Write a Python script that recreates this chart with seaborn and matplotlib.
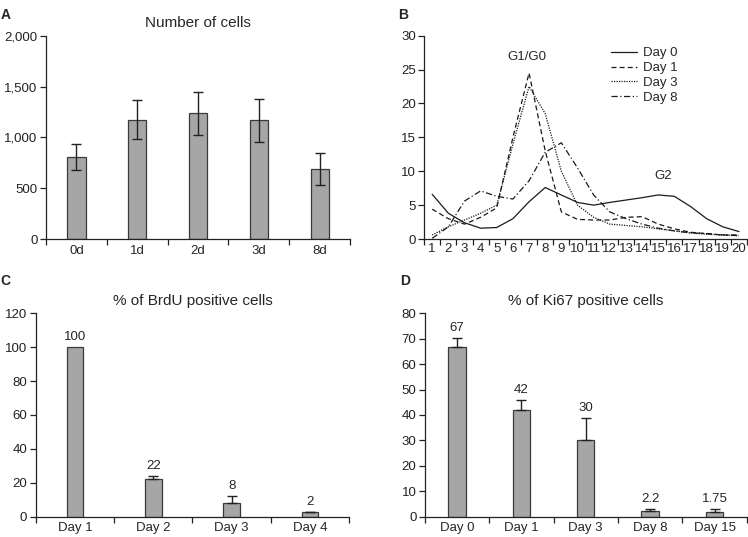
import numpy as np
import pandas as pd
import matplotlib
matplotlib.use("Agg")
import matplotlib.pyplot as plt
import seaborn as sns

# --- data ---
# A: number of cells
cells_days = ["0d", "1d", "2d", "3d", "8d"]
cells_mean = [805, 1175, 1235, 1168, 688]
cells_err = [130, 195, 215, 210, 160]

# B: cell cycle profiles
channel = list(range(1, 21))
day0 = [6.6, 3.8, 2.4, 1.6, 1.7, 3.0, 5.5, 7.6, 6.5, 5.4, 5.0, 5.4, 5.75, 6.1, 6.5, 6.3, 4.8, 3.0, 1.8, 1.1]
day1 = [4.4, 3.0, 2.2, 3.2, 4.6, 15.0, 24.5, 13.0, 4.0, 2.9, 2.8, 2.8, 3.2, 3.3, 2.2, 1.5, 1.0, 0.8, 0.6, 0.6]
day3 = [0.6, 1.8, 2.8, 3.8, 5.0, 14.0, 22.5, 18.5, 10.0, 5.0, 3.2, 2.2, 2.0, 1.8, 1.5, 1.2, 0.9, 0.7, 0.6, 0.5]
day8 = [0.1, 1.8, 5.6, 7.1, 6.3, 5.9, 8.6, 12.8, 14.2, 10.5, 6.5, 4.0, 3.0, 2.2, 1.6, 1.2, 0.9, 0.8, 0.6, 0.5]

# C: BrdU positive cells
brdu_days = ["Day 1", "Day 2", "Day 3", "Day 4"]
brdu_mean = [100, 22.2, 7.9, 2.6]
brdu_err = [0, 2.0, 4.5, 0.3]
brdu_text = ["100", "22", "8", "2"]

# D: Ki67 positive cells
ki67_days = ["Day 0", "Day 1", "Day 3", "Day 8", "Day 15"]
ki67_mean = [66.9, 42.0, 30.0, 2.2, 1.7]
ki67_err = [3.5, 3.9, 8.7, 0.8, 1.2]
ki67_text = ["67", "42", "30", "2.2", "1.75"]

sns.set_style("white")
plt.rcParams["font.family"] = ["Liberation Sans", "DejaVu Sans"]
plt.rcParams["font.size"] = 9.5

BAR = "#a6a6a6"
EDGE = "#3a3a3a"

fig = plt.figure(figsize=(7.48, 5.37), dpi=100)
axA = fig.add_axes([0.0615, 0.5549, 0.4065, 0.3786])
axB = fig.add_axes([0.567, 0.5549, 0.4317, 0.3786])
axC = fig.add_axes([0.0477, 0.0378, 0.4193, 0.3788])
axD = fig.add_axes([0.5678, 0.0378, 0.4305, 0.3788])


def style_axes(ax):
    sns.despine(ax=ax)
    for s in ["left", "bottom"]:
        ax.spines[s].set_color("#222222")
        ax.spines[s].set_linewidth(0.9)
    ax.tick_params(axis="y", which="major", direction="out", length=4, width=0.9,
                   colors="#222222", labelsize=9.5, left=True, pad=2)
    ax.tick_params(axis="x", which="major", length=0, labelsize=9.5, pad=4)
    ax.tick_params(axis="x", which="minor", direction="out", length=4, width=0.9,
                   colors="#222222", bottom=True)


def bar_panel(ax, cats, vals, errs, width, ylim, yticks, title, both=False, texts=None):
    df = pd.DataFrame({"day": cats, "val": vals})
    sns.barplot(data=df, x="day", y="val", order=cats, color=BAR, width=width,
                edgecolor=EDGE, linewidth=0.9, saturation=1, errorbar=None, ax=ax)
    xs = np.arange(len(cats))
    keep = np.array(errs) > 0
    e = np.array(errs)[keep]
    if both:
        yerr = e
    else:
        yerr = [np.zeros(len(e)), e]
    ax.errorbar(xs[keep], np.array(vals)[keep], yerr=yerr, fmt="none", ecolor="#222222",
                elinewidth=1.0, capsize=3.5, capthick=1.0)
    if texts is not None:
        for x, v, er, t in zip(xs, vals, errs, texts):
            ax.text(x, v + er + ylim[1] * 0.02, t, ha="center", va="bottom", fontsize=9.5)
    ax.set_xlim(-0.5, len(cats) - 0.5)
    ax.set_xticks(np.arange(-0.5, len(cats)), minor=True)
    ax.set_ylim(*ylim)
    ax.set_yticks(yticks)
    ax.set_xlabel("")
    ax.set_ylabel("")
    ax.set_title(title, fontsize=11, pad=6)
    style_axes(ax)


# A
bar_panel(axA, cells_days, cells_mean, cells_err, 0.3, (0, 2000),
          [0, 500, 1000, 1500, 2000], "Number of cells", both=True)
axA.set_yticklabels(["0", "500", "1,000", "1,500", "2,000"])

# B
prof = pd.DataFrame({
    "channel": channel * 4,
    "pct": day0 + day1 + day3 + day8,
    "group": ["Day 0"] * 20 + ["Day 1"] * 20 + ["Day 3"] * 20 + ["Day 8"] * 20,
})
dash_map = {"Day 0": "", "Day 1": (4, 2.5), "Day 3": (1, 1), "Day 8": (5, 2, 1, 2)}
sns.lineplot(data=prof, x="channel", y="pct", style="group", dashes=dash_map,
             color="#1a1a1a", linewidth=0.9, ax=axB)
axB.set_xlim(0.5, 20.4)
axB.set_ylim(0, 30)
axB.set_yticks([0, 5, 10, 15, 20, 25, 30])
axB.set_xticks(channel)
axB.set_xticks(np.arange(0.5, 20.6, 1), minor=True)
axB.set_xlabel("")
axB.set_ylabel("")
style_axes(axB)
axB.tick_params(axis="x", which="major", labelsize=9.5, pad=3)
axB.text(6.85, 25.9, "G1/G0", ha="center", va="bottom", fontsize=9.5)
axB.text(15.3, 8.4, "G2", ha="center", va="bottom", fontsize=9.5)
leg = axB.legend(loc="upper right", bbox_to_anchor=(0.80, 0.97), frameon=False,
                 borderaxespad=0, handlelength=2.0, handletextpad=0.4,
                 labelspacing=0.2, fontsize=9.5)

# C
bar_panel(axC, brdu_days, brdu_mean, brdu_err, 0.21, (0, 120),
          [0, 20, 40, 60, 80, 100, 120], "% of BrdU positive cells", texts=brdu_text)

# D
bar_panel(axD, ki67_days, ki67_mean, ki67_err, 0.27, (0, 80),
          [0, 10, 20, 30, 40, 50, 60, 70, 80], "% of Ki67 positive cells", texts=ki67_text)

# panel letters
for lab, x, y in [("A", 0.001, 0.985), ("B", 0.532, 0.985), ("C", 0.001, 0.49), ("D", 0.535, 0.49)]:
    fig.text(x, y, lab, fontsize=10, fontweight="bold", ha="left", va="top")

fig.savefig("out.png", dpi=100)
